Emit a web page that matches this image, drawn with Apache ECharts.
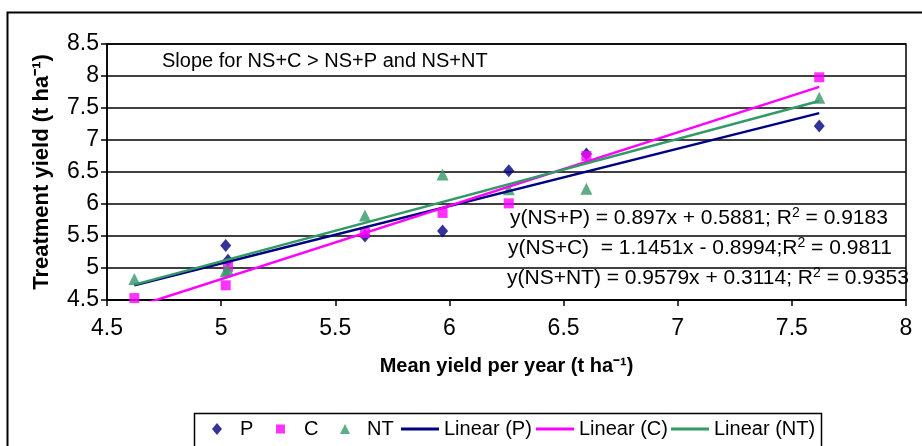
<!DOCTYPE html>
<html>
<head>
<meta charset="utf-8">
<script src="https://cdn.jsdelivr.net/npm/echarts@6/dist/echarts.min.js"></script>
<style>html,body{margin:0;padding:0;background:#fff;}#c{width:922px;height:446px;}</style>
</head>
<body>
<div id="c"></div>
<script>
// Mean yield per year (x) and treatment yields (y), t/ha
var meanYield = [4.62, 5.02, 5.03, 5.63, 5.97, 6.26, 6.60, 7.62];
var yieldP  = [4.49, 5.35, 5.12, 5.50, 5.58, 6.52, 6.78, 7.22];
var yieldC  = [4.53, 4.73, 5.02, 5.55, 5.86, 6.01, 6.75, 7.98];
var yieldNT = [4.83, 4.95, 4.97, 5.82, 6.46, 6.23, 6.24, 7.66];
// Linear trend line end points (as drawn)
var trendX  = [4.62, 7.62];
var trendP  = [4.73, 7.42];
var trendC  = [4.39, 7.83];
var trendNT = [4.74, 7.61];
var seriesNames = ['P', 'C', 'NT', 'Linear (P)', 'Linear (C)', 'Linear (NT)'];
var noteText = 'Slope for NS+C > NS+P and NS+NT';
var eqTexts = [
  ['y(NS+P) = 0.897x + 0.5881; R', ' = 0.9183'],
  ['y(NS+C)  = 1.1451x - 0.8994;R', ' = 0.9811'],
  ['y(NS+NT) = 0.9579x + 0.3114; R', ' = 0.9353']
];

var FONT = '"Liberation Sans", Arial, sans-serif';
var colP = '#000080', colC = '#FF00FF', colNT = '#339966';

function pairs(xs, ys) { return xs.map(function (x, i) { return [x, ys[i]]; }); }

var icons = {
  diamond: 'path://M5,0L10,6L5,12L0,6Z',
  square: 'path://M0,0H9V9H0Z',
  triangle: 'path://M5,0L10,10H0Z',
  line: 'path://M0,0H38V3.2H0Z'
};

// one legend component per entry: [name, icon, iconLeft, iconWidth, iconHeight, textPadLeft]
var legendSpec = [
  [seriesNames[0], icons.diamond, 212, 10, 12, 13],
  [seriesNames[1], icons.square, 276, 9, 9, 14],
  [seriesNames[2], icons.triangle, 340, 10, 10, 12],
  [seriesNames[3], icons.line, 401, 38, 3.2, 0],
  [seriesNames[4], icons.line, 536, 38, 3.2, 0],
  [seriesNames[5], icons.line, 671, 38, 3.2, 0]
];

var legends = legendSpec.map(function (s) {
  return {
    left: s[2], top: 419, padding: 0,
    itemWidth: s[3], itemHeight: s[4], itemGap: 0,
    selectedMode: false,
    textStyle: {fontSize: 20, fontFamily: FONT, color: '#000', padding: [0, 0, 0, s[5] - 0]},
    data: [{name: s[0], icon: s[1]}]
  };
});

var chart = echarts.init(document.getElementById('c'), null, {renderer: 'canvas'});

var eqGraphics = eqTexts.map(function (t, i) {
  return {
    type: 'text',
    left: [510, 508, 507][i],
    top: [206, 236, 266][i],
    z: 100,
    style: {
      text: '{a|' + t[0] + '}{s|2}{a|' + t[1] + '}',
      rich: {
        a: {fontSize: 21, fontFamily: FONT, fill: '#000', verticalAlign: 'bottom', lineHeight: 23},
        s: {fontSize: 14, fontFamily: FONT, fill: '#000', verticalAlign: 'top', padding: [0, 0, 9, 0], lineHeight: 23}
      }
    }
  };
});

chart.setOption({
  animation: false,
  backgroundColor: '#fff',
  grid: {left: 107, top: 44, right: 16, bottom: 146, show: true, borderColor: '#000', borderWidth: 1.5, backgroundColor: 'transparent'},
  xAxis: {
    type: 'value', min: 4.5, max: 8, interval: 0.5,
    name: 'Mean yield per year (t ha\u207B\u00B9)',
    nameLocation: 'middle', nameGap: 56,
    nameTextStyle: {fontSize: 20, fontWeight: 'bold', fontFamily: FONT, color: '#000'},
    axisLine: {show: true, onZero: false, lineStyle: {color: '#000', width: 1.5}},
    axisTick: {show: true, length: 6, inside: false, lineStyle: {color: '#000', width: 1.5}},
    axisLabel: {fontSize: 23, fontFamily: FONT, color: '#000', margin: 17,
      formatter: function (v) { return String(+v.toFixed(1)); }},
    splitLine: {show: false}
  },
  yAxis: {
    type: 'value', min: 4.5, max: 8.5, interval: 0.5,
    name: 'Treatment yield (t ha\u207B\u00B9)',
    nameLocation: 'middle', nameGap: 54, nameRotate: 90,
    nameTextStyle: {fontSize: 22, fontWeight: 'bold', fontFamily: FONT, color: '#000'},
    axisLine: {show: true, onZero: false, lineStyle: {color: '#000', width: 1.5}},
    axisTick: {show: true, length: 6, lineStyle: {color: '#000', width: 1.5}},
    axisLabel: {fontSize: 23, fontFamily: FONT, color: '#000', margin: 8,
      formatter: function (v) { return String(+v.toFixed(1)); }},
    splitLine: {show: true, lineStyle: {color: '#000', width: 1.5}}
  },
  legend: legends,
  graphic: [
    {type: 'rect', left: 5, top: 10, z: -10, silent: true,
      shape: {width: 1000, height: 500}, style: {fill: 'none', stroke: '#000', lineWidth: 2}},
    {type: 'rect', left: 192, top: 411, z: -5, silent: true,
      shape: {width: 627, height: 60}, style: {fill: 'none', stroke: '#000', lineWidth: 1.5}},
    {type: 'text', left: 162, top: 51, z: 100,
      style: {text: noteText, fontSize: 20, fontFamily: FONT, fill: '#000'}}
  ].concat(eqGraphics),
  series: [
    {name: seriesNames[0], type: 'scatter', data: pairs(meanYield, yieldP), symbol: 'diamond', symbolSize: [11, 13],
      itemStyle: {color: colP}, z: 3},
    {name: seriesNames[1], type: 'scatter', data: pairs(meanYield, yieldC), symbol: 'rect', symbolSize: 10,
      itemStyle: {color: colC}, z: 3},
    {name: seriesNames[2], type: 'scatter', data: pairs(meanYield, yieldNT), symbol: 'triangle', symbolSize: 12,
      itemStyle: {color: colNT}, z: 3},
    {name: seriesNames[3], type: 'line', data: pairs(trendX, trendP), showSymbol: false, symbol: 'none', clip: true,
      lineStyle: {color: colP, width: 2.5}, itemStyle: {color: colP}, z: 5},
    {name: seriesNames[4], type: 'line', data: pairs(trendX, trendC), showSymbol: false, symbol: 'none', clip: true,
      lineStyle: {color: colC, width: 2.5}, itemStyle: {color: colC}, z: 5},
    {name: seriesNames[5], type: 'line', data: pairs(trendX, trendNT), showSymbol: false, symbol: 'none', clip: true,
      lineStyle: {color: colNT, width: 2.5}, itemStyle: {color: colNT}, z: 5}
  ]
});
</script>
</body>
</html>
